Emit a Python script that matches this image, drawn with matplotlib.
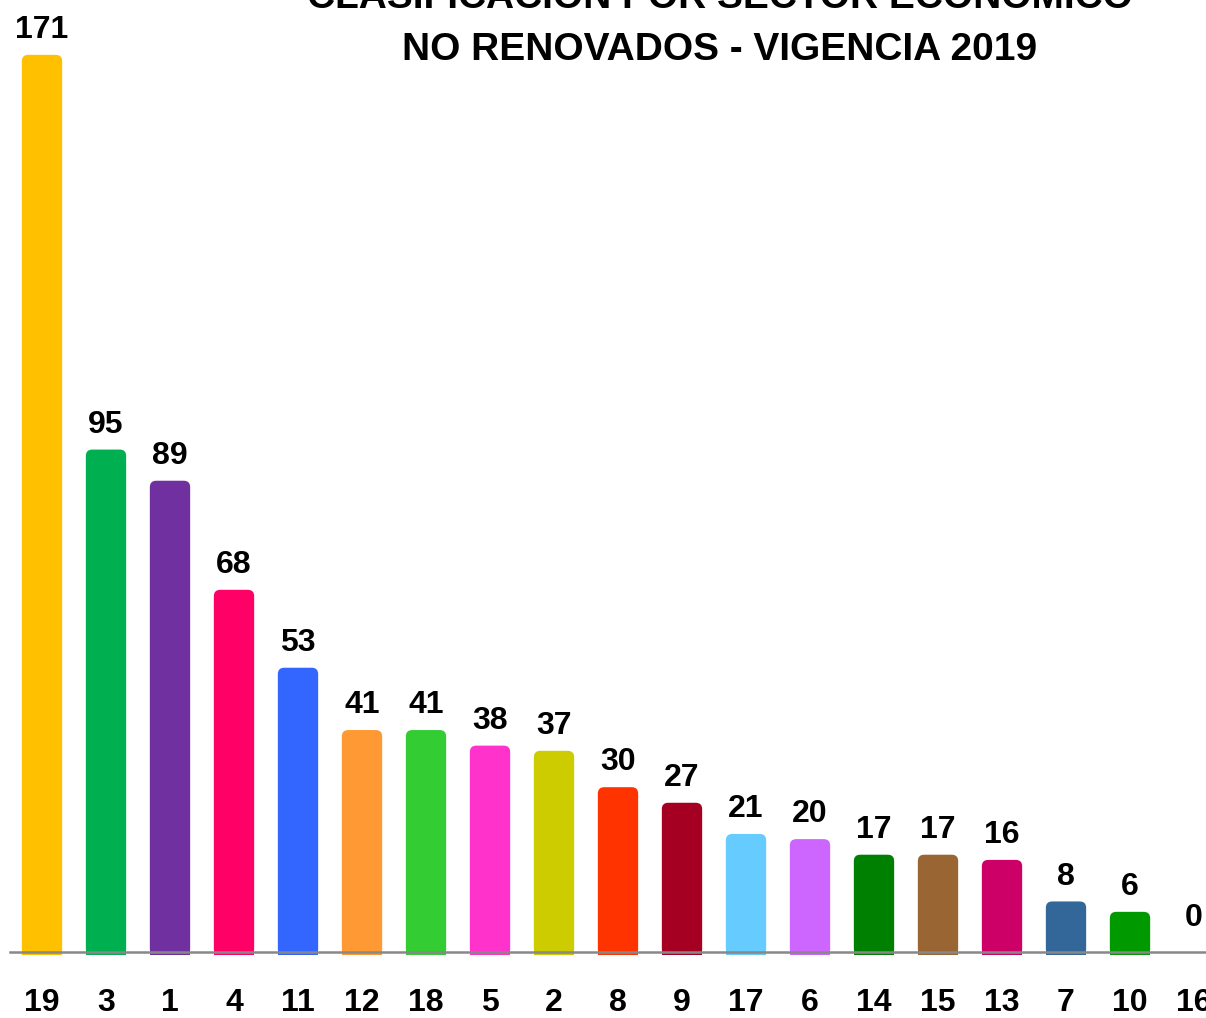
import matplotlib
matplotlib.use("Agg")
import matplotlib.pyplot as plt
from matplotlib.patches import FancyBboxPatch

plt.rcParams['font.family'] = ['Liberation Sans', 'DejaVu Sans']

sectores = ['19', '3', '1', '4', '11', '12', '18', '5', '2', '8', '9', '17', '6', '14', '15', '13', '7', '10', '16']
valores = [171, 95, 89, 68, 53, 41, 41, 38, 37, 30, 27, 21, 20, 17, 17, 16, 8, 6, 0]
colores = ['#FFC000', '#00B050', '#7030A0', '#FF0066', '#3366FF', '#FF9933', '#33CC33', '#FF33CC',
           '#CCCC00', '#FF3300', '#A50021', '#66CCFF', '#CC66FF', '#008000', '#996633', '#CC0066',
           '#336699', '#009900', '#FFFFFF']
titulo1 = 'CLASIFICACIÓN POR SECTOR ECONÓMICO'
titulo2 = 'NO RENOVADOS - VIGENCIA 2019'

BASE = -2.31  # las barras empiezan un poco por debajo del cero

fig = plt.figure(figsize=(12.06, 10.18), dpi=100)
ax = fig.add_axes([0, 63 / 1018, 1, 955 / 1018])
ax.set_xlim(-42 / 64, (1206 - 42) / 64)
ax.set_ylim(BASE, BASE + 955 / 5.194)

x = list(range(len(sectores)))
alturas = [v - BASE if v > 0 else 0 for v in valores]
bars = ax.bar(x, alturas, bottom=BASE, width=0.63, color=colores)

# reemplazar barras por rectangulos con esquinas superiores redondeadas
for b, c in zip(bars, colores):
    b.set_visible(False)
    h = b.get_height()
    if h <= 0:
        continue
    x0, y0, w = b.get_x(), b.get_y(), b.get_width()
    ax.add_patch(FancyBboxPatch((x0, y0), w, h, boxstyle="round,pad=0,rounding_size=0.1",
                                mutation_aspect=12.2, facecolor=c, edgecolor='none', zorder=2))
    ax.add_patch(plt.Rectangle((x0, y0), w, h / 2, facecolor=c, edgecolor='none', zorder=2))

for xi, v in zip(x, valores):
    ax.text(xi, v + 1.9, str(v), ha='center', va='bottom', fontsize=23, fontweight='bold', color='black')

ax.axhline(-1.73, xmin=10 / 1206, xmax=1, color='#888888', lw=1.8, zorder=3)

ax.set_xticks(x)
ax.set_xticklabels(sectores, fontsize=23, fontweight='bold')
ax.tick_params(axis='x', length=0, pad=24)
ax.set_yticks([])
for s in ax.spines.values():
    s.set_visible(False)

fig.text(0.597, 1 - 8 / 1018, titulo1, ha='center', va='baseline', fontsize=28, fontweight='bold')
fig.text(0.597, 1 - 60 / 1018, titulo2, ha='center', va='baseline', fontsize=28, fontweight='bold')

fig.savefig('out.png', dpi=100)
